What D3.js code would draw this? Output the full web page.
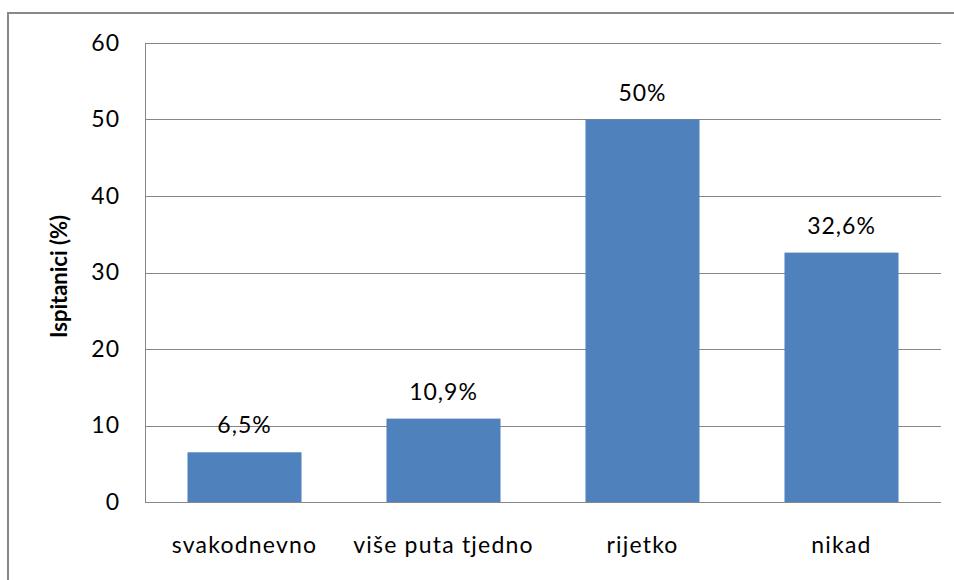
<!DOCTYPE html>
<html lang="hr">
	<head>
		<meta charset="utf-8">
		<title>Ispitanici</title>
		<script type="text/javascript" src="https://cdn.jsdelivr.net/npm/d3@7"></script>
		<style>
			body { margin: 0; background: #fff; }
			text { font-family: Lato, "Open Sans", sans-serif; fill: #000; }
		</style>
	</head>
	<body>
	<script type="text/javascript">
			// data
			var categories = ["svakodnevno", "više puta tjedno", "rijetko", "nikad"];
			var values = [6.5, 10.9, 50, 32.6];
			var valueLabels = ["6,5%", "10,9%", "50%", "32,6%"];
			var yTicks = [0, 10, 20, 30, 40, 50, 60];

			// setup
			var width = 954, height = 580;
			var plot = {left: 145, right: 941, top: 43, bottom: 502};
			var fontSize = "23px";

			var svg = d3.select("body")
						.append("svg")
						.attr("width", width)
						.attr("height", height);

			// outer frame (only left and top edges are visible)
			svg.append("path")
				.attr("d", "M8,580 V13 H954")
				.attr("fill", "none")
				.attr("stroke", "#888")
				.attr("stroke-width", 2);

			var x = d3.scaleBand()
					.domain(categories)
					.range([plot.left, plot.right])
					.paddingInner(0.427)
					.paddingOuter(0.2135);

			var y = d3.scaleLinear()
					.domain([0, 60])
					.range([plot.bottom, plot.top]);

			// gridlines
			svg.append("g")
				.selectAll("line")
				.data(yTicks)
				.enter().append("line")
				.attr("x1", plot.left)
				.attr("x2", plot.right)
				.attr("y1", function(d) { return Math.round(y(d)) + 0.5; })
				.attr("y2", function(d) { return Math.round(y(d)) + 0.5; })
				.attr("stroke", "#868686")
				.attr("stroke-width", 1);

			// y axis line
			svg.append("line")
				.attr("x1", plot.left + 0.5).attr("x2", plot.left + 0.5)
				.attr("y1", plot.top).attr("y2", plot.bottom + 1)
				.attr("stroke", "#868686");

			// y tick labels
			var yAxis = d3.axisLeft(y).tickValues(yTicks).tickSize(0).tickPadding(25);
			var gy = svg.append("g")
				.attr("transform", "translate(" + plot.left + ",0)")
				.call(yAxis);
			gy.select(".domain").remove();
			gy.selectAll("text")
				.style("font-size", fontSize)
				.style("letter-spacing", "1px")
				.style("font-family", "Lato, 'Open Sans', sans-serif")
				.attr("fill", "#000");

			// bars
			svg.append("g")
				.selectAll("rect")
				.data(values)
				.enter().append("rect")
				.attr("x", function(d, i) { return x(categories[i]); })
				.attr("width", x.bandwidth())
				.attr("y", function(d) { return y(d); })
				.attr("height", function(d) { return y(0) - y(d); })
				.attr("fill", "#4F81BD");

			// value labels
			svg.append("g")
				.selectAll("text")
				.data(values)
				.enter().append("text")
				.attr("x", function(d, i) { return x(categories[i]) + x.bandwidth() / 2; })
				.attr("y", function(d) { return y(d) - 19; })
				.attr("text-anchor", "middle")
				.style("font-size", fontSize)
				.style("letter-spacing", "1px")
				.text(function(d, i) { return valueLabels[i]; });

			// category labels
			var xAxis = d3.axisBottom(x).tickSize(0).tickPadding(0);
			var gx = svg.append("g")
				.attr("transform", "translate(0," + plot.bottom + ")")
				.call(xAxis);
			gx.select(".domain").remove();
			gx.selectAll("text")
				.attr("y", 51)
				.attr("dy", null)
				.style("font-size", fontSize)
				.style("letter-spacing", "1.2px")
				.style("font-family", "Lato, 'Open Sans', sans-serif")
				.attr("fill", "#000");

			// y axis title
			svg.append("text")
				.attr("transform", "translate(67," + ((plot.top + plot.bottom) / 2 + 4) + ") rotate(-90)")
				.attr("text-anchor", "middle")
				.style("font-size", "22px")
				.style("font-weight", "bold")
				.text("Ispitanici (%)");
	</script>
	</body>
</html>
